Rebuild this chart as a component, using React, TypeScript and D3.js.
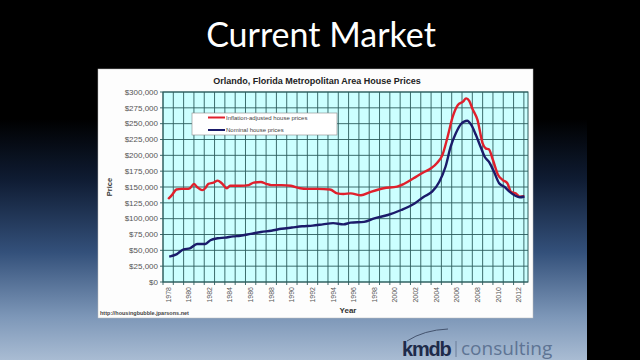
import React from "react";
import * as d3 from "d3";

const yearTicks = [1978, 1980, 1982, 1984, 1986, 1988, 1990, 1992, 1994, 1996, 1998, 2000, 2002, 2004, 2006, 2008, 2010, 2012];
const priceTicks = [0, 25000, 50000, 75000, 100000, 125000, 150000, 175000, 200000, 225000, 250000, 275000, 300000];

const inflationYears = [1978.0, 1978.4, 1978.8, 1979.3, 1979.8, 1980.1, 1980.5, 1980.8, 1981.3, 1981.6, 1981.9, 1982.4, 1982.8, 1983.2, 1983.7, 1984.0, 1985.0, 1985.8, 1986.3, 1987.0, 1987.5, 1988.0, 1989.0, 1989.9, 1990.8, 1991.5, 1992.5, 1993.7, 1994.4, 1995.0, 1995.7, 1996.7, 1997.6, 1998.9, 2000.2, 2000.85, 2001.8, 2002.7, 2003.5, 2004.1, 2004.6, 2005.1, 2005.6, 2006.1, 2006.6, 2006.9, 2007.2, 2007.5, 2008.0, 2008.5, 2008.8, 2009.1, 2009.5, 2010.0, 2010.45, 2010.9, 2011.25, 2011.7, 2012.1, 2012.55];
const inflationValues = [131, 138, 146, 147, 147, 148, 155, 150, 145, 148, 155, 157, 160, 156, 148, 152, 152, 153, 157, 158, 155, 153, 153, 152, 148, 147, 147, 146, 140, 139, 140, 137, 142, 148, 150.5, 154.7, 163.7, 172.6, 179.5, 188.4, 200.5, 229, 261, 279.5, 284.7, 290, 286, 274, 256, 219, 211, 209.5, 192.6, 169, 161, 156, 142.6, 140, 134.7, 135.5];

const nominalYears = [1978.1, 1978.8, 1979.5, 1980.1, 1980.8, 1981.6, 1982.1, 1982.8, 1983.5, 1984.3, 1985.0, 1986.0, 1987.0, 1988.0, 1989.0, 1990.0, 1991.0, 1992.0, 1993.0, 1994.0, 1995.0, 1995.7, 1997.0, 1998.0, 1999.3, 2000.6, 2001.9, 2002.8, 2003.6, 2004.3, 2004.9, 2005.4, 2005.9, 2006.4, 2007.0, 2007.4, 2007.85, 2008.3, 2008.7, 2009.1, 2009.6, 2010.1, 2010.6, 2011.1, 2011.6, 2012.1, 2012.55];
const nominalValues = [40, 43.6, 51.6, 53, 60, 60, 66, 69, 70, 72, 73, 76, 79, 81, 84, 86, 88, 89, 91, 93, 91, 93.7, 95, 100.5, 105.8, 113.7, 124, 134.7, 142.6, 158.4, 182, 213.6, 234.8, 249.5, 254.7, 248, 232, 213.6, 197.8, 190, 174, 156, 150.5, 142.6, 137, 133.7, 135];

const seriesNames = ["Inflation-adjusted house prices", "Nominal house prices"];

export default function App() {
  const W = 640, H = 360;
  const plot = { left: 163, right: 528, top: 92, bottom: 282 };
  const x = d3.scaleLinear().domain([1977.5, 2012.9]).range([plot.left, plot.right]);
  const y = d3.scaleLinear().domain([0, 300000]).range([plot.bottom, plot.top]);

  const gridYears = d3.range(1977.5, 2012.9, 1);

  const line = d3.line<[number, number]>()
    .x(d => x(d[0]))
    .y(d => y(d[1] * 1000))
    .curve(d3.curveMonotoneX);

  const red: [number, number][] = inflationYears.map((yr, i) => [yr, inflationValues[i]]);
  const blue: [number, number][] = nominalYears.map((yr, i) => [yr, nominalValues[i]]);
  const fmt = (v: number) => "$" + d3.format(",")(v);

  return (
    <svg width={W} height={H} style={{ position: "fixed", left: 0, top: 0, display: "block" }}>
      <defs>
        <linearGradient id="bg" x1="0" y1="0" x2="0" y2="1">
          <stop offset="0" stopColor="#000000" />
          <stop offset="0.33" stopColor="#000000" />
          <stop offset="0.5" stopColor="#0f1c33" />
          <stop offset="0.7" stopColor="#33507a" />
          <stop offset="0.88" stopColor="#7d97b8" />
          <stop offset="1" stopColor="#a9bcd3" />
        </linearGradient>
      </defs>
      <rect x={0} y={0} width={W} height={H} fill="url(#bg)" />
      <rect x={587} y={0} width={53} height={H} fill="#000" />
      <text x={321} y={47} textAnchor="middle" fill="#fff" fontFamily="Lato, 'Open Sans', sans-serif" fontSize={34}>Current Market</text>

      <rect x={98} y={69} width={435} height={249} fill="#fdfdfd" stroke="#bbb" strokeWidth={0.5} />
      <text x={317} y={84} textAnchor="middle" fontFamily="'Liberation Sans', Arial, sans-serif" fontWeight="bold" fontSize={9} fill="#222">Orlando, Florida Metropolitan Area House Prices</text>

      <rect x={plot.left} y={plot.top} width={plot.right - plot.left} height={plot.bottom - plot.top} fill="#ccffff" />
      {priceTicks.map(v => (
        <g key={v}>
          <line x1={plot.left - 3} x2={plot.right} y1={y(v)} y2={y(v)} stroke="#2b5c5c" strokeWidth={0.9} />
          <text x={plot.left - 5} y={y(v)} dy="0.35em" textAnchor="end" fontFamily="'Liberation Sans', Arial, sans-serif" fontSize={8} fill="#555">{fmt(v)}</text>
        </g>
      ))}
      {gridYears.map(g => (
        <line key={g} x1={x(g)} x2={x(g)} y1={plot.top} y2={plot.bottom + 3} stroke="#2b5c5c" strokeWidth={0.9} />
      ))}
      <rect x={plot.left} y={plot.top} width={plot.right - plot.left} height={plot.bottom - plot.top} fill="none" stroke="#2b5c5c" strokeWidth={1} />
      {yearTicks.map(t => (
        <text key={t} transform={`translate(${x(t)},${plot.bottom + 5}) rotate(-90)`} dy="0.35em" textAnchor="end" fontFamily="'Liberation Sans', Arial, sans-serif" fontSize={7} fill="#555">{t}</text>
      ))}

      <path d={line(red) || ""} fill="none" stroke="#e0202c" strokeWidth={2.4} strokeLinejoin="round" />
      <path d={line(blue) || ""} fill="none" stroke="#1b1b6a" strokeWidth={2.4} strokeLinejoin="round" />

      <rect x={192} y={113} width={145} height={22} fill="#fff" stroke="#888" strokeWidth={0.6} />
      <line x1={208} x2={225} y1={117.5} y2={117.5} stroke="#e0202c" strokeWidth={2} />
      <line x1={208} x2={225} y1={130} y2={130} stroke="#1b1b6a" strokeWidth={2} />
      <text x={226} y={117.5} dy="0.35em" fontFamily="'Liberation Sans', Arial, sans-serif" fontSize={6} fill="#444">{seriesNames[0]}</text>
      <text x={226} y={130} dy="0.35em" fontFamily="'Liberation Sans', Arial, sans-serif" fontSize={6} fill="#444">{seriesNames[1]}</text>

      <text transform={`translate(109,187) rotate(-90)`} textAnchor="middle" dy="0.35em" fontFamily="'Liberation Sans', Arial, sans-serif" fontWeight="bold" fontSize={7.5} fill="#333">Price</text>
      <text x={348} y={313} textAnchor="middle" fontFamily="'Liberation Sans', Arial, sans-serif" fontWeight="bold" fontSize={8} fill="#333">Year</text>
      <text x={100} y={315} fontFamily="'Liberation Sans', Arial, sans-serif" fontWeight="bold" fontSize={5.5} fill="#444">http://housingbubble.jparsons.net</text>

      <path d="M407,341 Q424,330 448,329" fill="none" stroke="#44536e" strokeWidth={1} />
      <text x={402} y={356} fontFamily="'Liberation Sans', Arial, sans-serif" fontWeight="bold" fontSize={20} fill="#1e2b4a" letterSpacing={-1.2}>kmdb</text>
      <line x1={456} x2={456} y1={341} y2={357} stroke="#6a7c98" strokeWidth={1} />
      <text x={461} y={355} fontFamily="'Open Sans', sans-serif" fontSize={19} fill="#5e7494">consulting</text>
    </svg>
  );
}
